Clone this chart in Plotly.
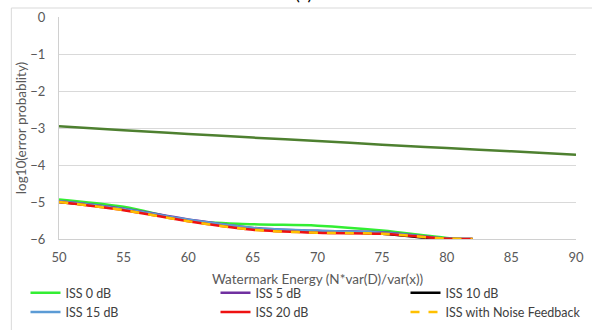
import plotly.graph_objects as go

x_ref = [50, 55, 60, 65, 70, 75, 80, 85, 90]
ref_vals = [-2.95, -3.06, -3.16, -3.26, -3.35, -3.45, -3.54, -3.63, -3.72]

x_iss = [50, 55, 60, 65, 70, 75, 80, 82]
iss0 = [-4.93, -5.13, -5.50, -5.60, -5.64, -5.77, -5.97, -6.0]
iss5 = [-4.98, -5.18, -5.47, -5.70, -5.78, -5.82, -5.99, -6.0]
iss10 = [-5.00, -5.20, -5.50, -5.72, -5.80, -5.86, -6.02, -6.05]
iss15 = [-4.98, -5.19, -5.48, -5.70, -5.78, -5.83, -5.99, -6.0]
iss20 = [-5.00, -5.22, -5.52, -5.75, -5.83, -5.86, -5.99, -6.0]
issnf = [-5.00, -5.22, -5.52, -5.75, -5.83, -5.86, -5.99, -6.0]

names = ["ISS 0 dB", "ISS 5 dB", "ISS 10 dB", "ISS 15 dB", "ISS 20 dB", "ISS with Noise Feedback"]
series = [iss0, iss5, iss10, iss15, iss20, issnf]
colors = ["#33EE33", "#7030A0", "#000000", "#5B9BD5", "#EE1111", "#FFC000"]
dashes = ["solid"] * 5 + ["dash"]

x_ticks = [50, 55, 60, 65, 70, 75, 80, 85, 90]
y_ticks = [0, -1, -2, -3, -4, -5, -6]

fig = go.Figure()
fig.add_trace(go.Scatter(x=x_ref, y=ref_vals, mode="lines", showlegend=False,
                         line=dict(color="#4E8030", width=2.5, shape="spline")))
for n, s, c, d in zip(names, series, colors, dashes):
    fig.add_trace(go.Scatter(x=x_iss, y=s, mode="lines", name=n,
                             line=dict(color=c, width=2.5, dash=d, shape="spline")))

font = "Lato, Liberation Sans, Arial, sans-serif"
fig.update_layout(
    width=592, height=330,
    margin=dict(l=59, r=16, t=17, b=91, autoexpand=False),
    paper_bgcolor="white", plot_bgcolor="white",
    font=dict(family=font, color="#595959", size=13),
    xaxis=dict(range=[50, 90], tickvals=x_ticks, showgrid=False,
               showline=True, linecolor="#D0D0D0", linewidth=1,
               ticks="outside", ticklen=6, tickcolor="rgba(0,0,0,0)",
               tickfont=dict(size=13, color="#595959"),
               title=dict(text="Watermark Energy (N*var(D)/var(x))", standoff=10,
                          font=dict(size=13.5, color="#595959")),
               zeroline=False),
    yaxis=dict(range=[-6, 0], tickvals=y_ticks, showgrid=True, gridcolor="#D9D9D9",
               showline=True, linecolor="#D0D0D0", linewidth=1,
               ticks="outside", ticklen=10, tickcolor="rgba(0,0,0,0)",
               tickfont=dict(size=13, color="#595959"),
               title=dict(text="log10(error probablity)", standoff=0,
                          font=dict(size=13.5, color="#595959")),
               zeroline=False),
    legend=dict(orientation="h", x=-0.0648, xanchor="left", y=-0.176, yanchor="top",
                entrywidth=145, entrywidthmode="pixels", traceorder="normal",
                font=dict(size=12.5, color="#404040"), itemwidth=30,
                bgcolor="rgba(0,0,0,0)", tracegroupgap=0),
    shapes=[
        dict(type="line", xref="paper", yref="paper", x0=-0.0922, x1=1.2, y0=1.0405, y1=1.0405,
             line=dict(color="#D9D9D9", width=1)),
        dict(type="line", xref="paper", yref="paper", x0=-0.0922, x1=-0.0922, y0=1.0405, y1=-0.5,
             line=dict(color="#D9D9D9", width=1)),
    ],
    annotations=[
        dict(text="(c)", xref="paper", yref="paper", x=0.472, y=1.05, xanchor="center",
             yanchor="bottom", showarrow=False, font=dict(size=18, color="#000000")),
    ],
)

fig.write_html("out.html", config={"displayModeBar": False},
               post_script="document.body.style.margin='0';")
